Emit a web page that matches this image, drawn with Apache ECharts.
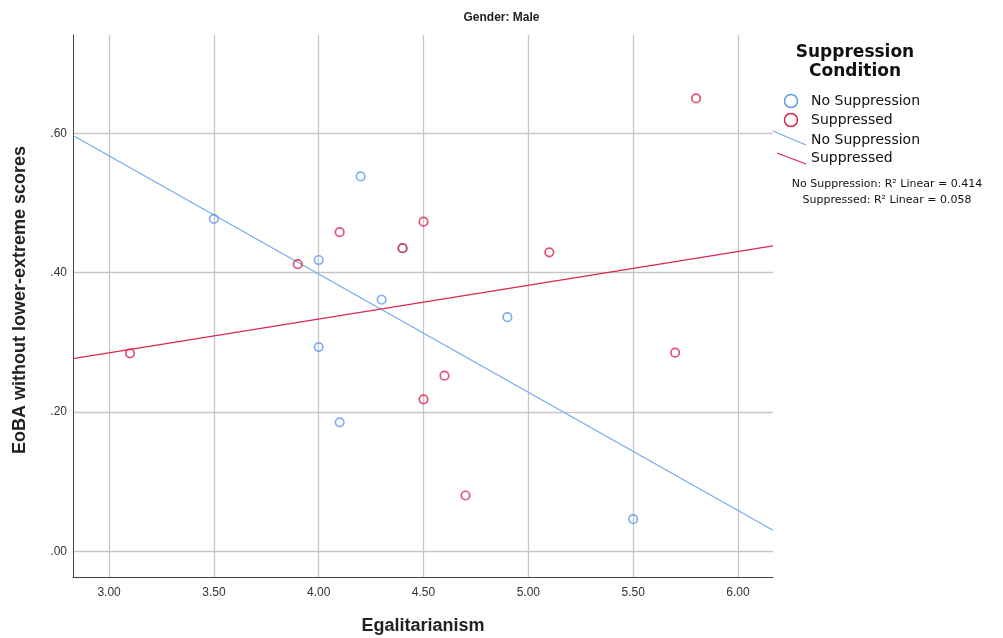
<!DOCTYPE html>
<html>
<head>
<meta charset="utf-8">
<script src="https://cdn.jsdelivr.net/npm/echarts@6/dist/echarts.min.js"></script>
<style>
  html, body { margin: 0; padding: 0; background: #fff; }
  #chart { width: 1003px; height: 638px; }
</style>
</head>
<body>
<div id="chart"></div>
<script>
// Egalitarianism (x) vs EoBA without lower-extreme scores (y), male participants
const xTicks = [3.0, 3.5, 4.0, 4.5, 5.0, 5.5, 6.0];
const yTicks = [0.0, 0.2, 0.4, 0.6];

const noSuppX = [3.5, 4.0, 4.0, 4.1, 4.2, 4.3, 4.4, 4.9, 5.5];
const noSuppY = [0.477, 0.418, 0.293, 0.185, 0.538, 0.361, 0.435, 0.336, 0.046];

const suppX = [3.1, 3.9, 4.1, 4.4, 4.5, 4.5, 4.6, 4.7, 5.1, 5.7, 5.8];
const suppY = [0.284, 0.412, 0.458, 0.435, 0.473, 0.218, 0.252, 0.080, 0.429, 0.285, 0.650];

const groupNames = ['No Suppression', 'Suppressed'];
const r2Labels = ['No Suppression: R\u00B2 Linear = 0.414', 'Suppressed: R\u00B2 Linear = 0.058'];

const X_MIN = 2.828, X_MAX = 6.167;
const Y_MIN = -0.037, Y_MAX = 0.741;

const BLUE = '#5f9ce8';
const BLUE_LINE = '#79aaee';
const RED = '#da2850';

// ordinary least squares fit, drawn across the full x range
function fitLine(xs, ys) {
  const n = xs.length;
  const mx = xs.reduce((a, b) => a + b, 0) / n;
  const my = ys.reduce((a, b) => a + b, 0) / n;
  let sxy = 0, sxx = 0;
  for (let i = 0; i < n; i++) {
    sxy += (xs[i] - mx) * (ys[i] - my);
    sxx += (xs[i] - mx) * (xs[i] - mx);
  }
  const b = sxy / sxx, a = my - b * mx;
  return [[X_MIN, a + b * X_MIN], [X_MAX, a + b * X_MAX]];
}
const pairs = (xs, ys) => xs.map((x, i) => [x, ys[i]]);

const AX_FONT = 'Liberation Sans';

const chart = echarts.init(document.getElementById('chart'), null, { renderer: 'canvas' });

const legendX = 791, textX = 811;
chart.setOption({
  animation: false,
  backgroundColor: '#ffffff',
  grid: { left: 73, top: 35, width: 700, height: 542, containLabel: false },
  xAxis: {
    type: 'value', min: X_MIN, max: X_MAX,
    axisLine: { show: true, onZero: false, lineStyle: { color: '#444', width: 1 } },
    axisTick: { show: false, customValues: xTicks },
    axisLabel: {
      customValues: xTicks, margin: 10, color: '#333', fontSize: 12, fontFamily: AX_FONT,
      formatter: v => v.toFixed(2)
    },
    splitLine: { show: true, lineStyle: { color: '#c6c6c6', width: 1.3 } }
  },
  yAxis: {
    type: 'value', min: Y_MIN, max: Y_MAX,
    axisLine: { show: true, onZero: false, lineStyle: { color: '#444', width: 1 } },
    axisTick: { show: false, customValues: yTicks },
    axisLabel: {
      customValues: yTicks, margin: 6, color: '#333', fontSize: 12, fontFamily: AX_FONT,
      formatter: v => v.toFixed(2).replace(/^0/, '')
    },
    splitLine: { show: true, lineStyle: { color: '#c6c6c6', width: 1.3 } }
  },
  series: [
    {
      name: groupNames[0] + ' fit', type: 'line', data: fitLine(noSuppX, noSuppY),
      symbol: 'none', lineStyle: { color: BLUE_LINE, width: 1.3 }, z: 2
    },
    {
      name: groupNames[1] + ' fit', type: 'line', data: fitLine(suppX, suppY),
      symbol: 'none', lineStyle: { color: RED, width: 1.3 }, z: 2
    },
    {
      name: groupNames[0], type: 'scatter', data: pairs(noSuppX, noSuppY),
      symbol: 'circle', symbolSize: 8.5,
      itemStyle: { color: 'rgba(255,255,255,0)', borderColor: BLUE, borderWidth: 1.7 }, z: 3
    },
    {
      name: groupNames[1], type: 'scatter', data: pairs(suppX, suppY),
      symbol: 'circle', symbolSize: 8.5,
      itemStyle: { color: 'rgba(255,255,255,0)', borderColor: RED, borderWidth: 1.7 }, z: 4
    }
  ],
  graphic: [
    { type: 'text', left: 'center', top: 12, style: { text: 'Gender: Male', font: 'bold 12px "Liberation Sans"', fill: '#222' } },
    { type: 'text', x: 423, y: 626, style: { text: 'Egalitarianism', font: 'bold 18px "Liberation Sans"', fill: '#222', align: 'center', verticalAlign: 'middle' } },
    { type: 'text', x: 20, y: 300, rotation: Math.PI / 2, style: { text: 'EoBA without lower-extreme scores', font: 'bold 18px "Liberation Sans"', fill: '#222', align: 'center', verticalAlign: 'middle' } },
    // legend
    { type: 'text', x: 855, y: 53, style: { text: 'Suppression', font: 'bold 17px "DejaVu Sans"', fill: '#111', align: 'center', verticalAlign: 'middle' } },
    { type: 'text', x: 855, y: 72, style: { text: 'Condition', font: 'bold 17px "DejaVu Sans"', fill: '#111', align: 'center', verticalAlign: 'middle' } },
    { type: 'circle', shape: { cx: legendX, cy: 101, r: 6.5 }, style: { fill: 'none', stroke: BLUE, lineWidth: 1.5 } },
    { type: 'text', x: textX, y: 101, style: { text: groupNames[0], font: '14px "DejaVu Sans"', fill: '#111', verticalAlign: 'middle' } },
    { type: 'circle', shape: { cx: legendX, cy: 120, r: 6.5 }, style: { fill: 'none', stroke: RED, lineWidth: 1.5 } },
    { type: 'text', x: textX, y: 120, style: { text: groupNames[1], font: '14px "DejaVu Sans"', fill: '#111', verticalAlign: 'middle' } },
    { type: 'line', shape: { x1: 773, y1: 131, x2: 806, y2: 145 }, style: { stroke: BLUE_LINE, lineWidth: 1.3 } },
    { type: 'text', x: textX, y: 140, style: { text: groupNames[0], font: '14px "DejaVu Sans"', fill: '#111', verticalAlign: 'middle' } },
    { type: 'line', shape: { x1: 777, y1: 153, x2: 806, y2: 164 }, style: { stroke: RED, lineWidth: 1.3 } },
    { type: 'text', x: textX, y: 158, style: { text: groupNames[1], font: '14px "DejaVu Sans"', fill: '#111', verticalAlign: 'middle' } },
    { type: 'text', x: 887, y: 184, style: { text: r2Labels[0], font: '11px "DejaVu Sans"', fill: '#111', align: 'center', verticalAlign: 'middle' } },
    { type: 'text', x: 887, y: 200, style: { text: r2Labels[1], font: '11px "DejaVu Sans"', fill: '#111', align: 'center', verticalAlign: 'middle' } }
  ]
});
</script>
</body>
</html>
